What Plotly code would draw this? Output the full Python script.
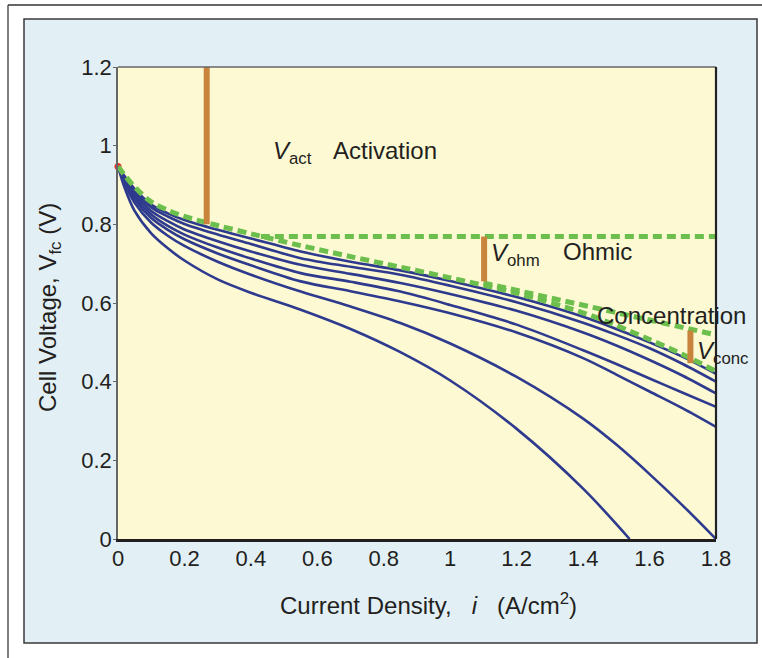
import plotly.graph_objects as go

# ---------------- data ----------------
i_grid = [0, 0.02, 0.05, 0.1, 0.15, 0.2, 0.3, 0.4, 0.55, 0.7, 0.85, 1.0, 1.2, 1.4, 1.5, 1.6, 1.7, 1.8]

v_c1 = [0.947, 0.922, 0.890, 0.850, 0.828, 0.811, 0.786, 0.764, 0.731, 0.705, 0.683, 0.656, 0.615, 0.565, 0.534, 0.500, 0.463, 0.420]
v_c2 = [0.947, 0.919, 0.884, 0.843, 0.820, 0.801, 0.774, 0.750, 0.714, 0.692, 0.672, 0.644, 0.602, 0.550, 0.519, 0.485, 0.445, 0.400]
v_c3 = [0.947, 0.915, 0.877, 0.834, 0.808, 0.787, 0.757, 0.731, 0.697, 0.674, 0.651, 0.623, 0.580, 0.525, 0.492, 0.455, 0.415, 0.370]
v_c4 = [0.947, 0.912, 0.870, 0.825, 0.796, 0.774, 0.741, 0.713, 0.676, 0.654, 0.629, 0.595, 0.545, 0.480, 0.445, 0.408, 0.372, 0.336]
v_c5 = [0.947, 0.908, 0.864, 0.816, 0.786, 0.762, 0.726, 0.696, 0.655, 0.630, 0.604, 0.574, 0.525, 0.460, 0.418, 0.375, 0.332, 0.285]
v_c6 = [0.947, 0.903, 0.855, 0.804, 0.771, 0.745, 0.705, 0.672, 0.629, 0.591, 0.549, 0.497, 0.412, 0.306, 0.240, 0.165, 0.085, 0.000]

i_c7 = [0, 0.02, 0.05, 0.1, 0.15, 0.2, 0.3, 0.4, 0.55, 0.7, 0.85, 1.0, 1.2, 1.4, 1.54]
v_c7 = [0.947, 0.893, 0.834, 0.777, 0.739, 0.708, 0.660, 0.626, 0.583, 0.534, 0.475, 0.403, 0.280, 0.128, 0.000]

# ideal curve (activation + ohmic + concentration)
v_ideal = [0.947, 0.925, 0.895, 0.857, 0.836, 0.820, 0.797, 0.776, 0.746, 0.718, 0.691, 0.664, 0.625, 0.575, 0.543, 0.507, 0.469, 0.426]

# reference lines
flat_i = [0.43, 1.8]
flat_v = [0.769, 0.769]
ohm_ext_i = [1.10, 1.8]
ohm_ext_v = [0.651, 0.519]

# loss bars
bar_i = [0.267, 1.102, 1.723]
bar_top = [1.20, 0.769, 0.530]
bar_bot = [0.80, 0.655, 0.447]

x_ticks = [0, 0.2, 0.4, 0.6, 0.8, 1.0, 1.2, 1.4, 1.6, 1.8]
x_labels = ["0", "0.2", "0.4", "0.6", "0.8", "1", "1.2", "1.4", "1.6", "1.8"]
y_ticks = [0, 0.2, 0.4, 0.6, 0.8, 1.0, 1.2]
y_labels = ["0", "0.2", "0.4", "0.6", "0.8", "1", "1.2"]

# ---------------- style ----------------
NAVY = "#2e3a8e"
GREEN = "#6cbf4c"
ORANGE = "#c8843c"
PANEL = "#e2eff5"
PLOTBG = "#fdf9d3"
TXT = "#231f20"
FONT = "Liberation Sans, Arial, Helvetica, sans-serif"

W, H = 762, 658
L, R, T, B = 118, 716, 67, 539


def px(x):
    return (x - L) / (R - L)


def py(y):
    return (B - y) / (B - T)


fig = go.Figure()

# red start marker
fig.add_trace(go.Scatter(x=[i_grid[0]], y=[v_ideal[0]], mode="markers",
                         marker=dict(color="#e8302a", size=7), cliponaxis=False,
                         hoverinfo="skip", showlegend=False))

for vals in [v_c1, v_c2, v_c3, v_c4, v_c5, v_c6]:
    fig.add_trace(go.Scatter(x=i_grid, y=vals, mode="lines",
                             line=dict(color=NAVY, width=2.6, shape="spline", smoothing=0.9),
                             showlegend=False, hoverinfo="skip"))
fig.add_trace(go.Scatter(x=i_c7, y=v_c7, mode="lines",
                         line=dict(color=NAVY, width=2.6, shape="spline", smoothing=0.9),
                         showlegend=False, hoverinfo="skip"))

dash = "9px,5px"
fig.add_trace(go.Scatter(x=flat_i, y=flat_v, mode="lines",
                         line=dict(color=GREEN, width=5, dash=dash), showlegend=False, hoverinfo="skip"))
fig.add_trace(go.Scatter(x=ohm_ext_i, y=ohm_ext_v, mode="lines",
                         line=dict(color=GREEN, width=5, dash=dash), showlegend=False, hoverinfo="skip"))
fig.add_trace(go.Scatter(x=i_grid, y=v_ideal, mode="lines",
                         line=dict(color=GREEN, width=5, dash=dash, shape="spline", smoothing=0.9),
                         showlegend=False, hoverinfo="skip"))

# loss bars
bx, by = [], []
for xi, t, b in zip(bar_i, bar_top, bar_bot):
    bx += [xi, xi, None]
    by += [t, b, None]
fig.add_trace(go.Scatter(x=bx, y=by, mode="lines", line=dict(color=ORANGE, width=6),
                         showlegend=False, hoverinfo="skip", cliponaxis=False))

shapes = [
    # outer frame lines
    dict(type="line", xref="paper", yref="paper", x0=px(8), x1=px(8), y0=py(5), y1=py(660),
         line=dict(color="#555", width=1.5), layer="below"),
    dict(type="line", xref="paper", yref="paper", x0=px(8), x1=px(764), y0=py(5), y1=py(5),
         line=dict(color="#333", width=1.5), layer="below"),
    # blue panel
    dict(type="rect", xref="paper", yref="paper", x0=px(24), x1=px(757), y0=py(643), y1=py(19),
         fillcolor=PANEL, line=dict(color="#3a3a3a", width=1.5), layer="below"),
    # plot background
    dict(type="rect", xref="paper", yref="paper", x0=0, x1=1, y0=0, y1=1,
         fillcolor=PLOTBG, line=dict(width=0), layer="below"),
    # top & right frame of plot area
    dict(type="line", xref="paper", yref="paper", x0=0, x1=1, y0=1, y1=1,
         line=dict(color="#666", width=1.5)),
    dict(type="line", xref="paper", yref="paper", x0=1, x1=1, y0=0, y1=1,
         line=dict(color="#222", width=2.2)),
]

ann_font = dict(family=FONT, size=24, color=TXT)
annotations = [
    dict(text="<i>V</i><sub>act</sub>", x=px(271), y=py(152), xref="paper", yref="paper",
         xanchor="left", yanchor="middle", showarrow=False, font=ann_font),
    dict(text="Activation", x=px(331), y=py(150), xref="paper", yref="paper",
         xanchor="left", yanchor="middle", showarrow=False, font=ann_font),
    dict(text="<i>V</i><sub>ohm</sub>", x=px(489), y=py(254), xref="paper", yref="paper",
         xanchor="left", yanchor="middle", showarrow=False, font=ann_font),
    dict(text="Ohmic", x=px(561), y=py(252), xref="paper", yref="paper",
         xanchor="left", yanchor="middle", showarrow=False, font=ann_font),
    dict(text="Concentration", x=px(595), y=py(315), xref="paper", yref="paper",
         xanchor="left", yanchor="middle", showarrow=False, font=ann_font),
    dict(text="<i>V</i><sub>conc</sub>", x=px(695), y=py(352), xref="paper", yref="paper",
         xanchor="left", yanchor="middle", showarrow=False, font=ann_font),
    dict(text="Current Density,\u00a0\u00a0 <i>i</i> \u00a0\u00a0(A/cm<sup>2</sup>)", x=px(428), y=py(604),
         xref="paper", yref="paper", xanchor="center", yanchor="middle", showarrow=False, font=ann_font),
    dict(text="Cell Voltage, V<sub>fc</sub> (V)", x=px(49), y=py(308), xref="paper", yref="paper",
         xanchor="center", yanchor="middle", textangle=-90, showarrow=False, font=ann_font),
]

fig.update_layout(
    width=W, height=H, autosize=False,
    margin=dict(l=L, r=W - R, t=T, b=H - B, pad=0),
    paper_bgcolor="white", plot_bgcolor="rgba(0,0,0,0)",
    shapes=shapes, annotations=annotations, showlegend=False,
    font=dict(family=FONT, color=TXT),
    xaxis=dict(range=[0, 1.8], tickvals=x_ticks, ticktext=x_labels, showgrid=False, zeroline=False,
               showline=True, linecolor="#231f20", linewidth=2.5, ticks="", ticklabelstandoff=-2,
               tickfont=dict(family=FONT, size=22, color=TXT), fixedrange=True),
    yaxis=dict(range=[0, 1.2], tickvals=y_ticks, ticktext=y_labels, showgrid=False, zeroline=False,
               showline=True, linecolor="#666", linewidth=1.5, ticks="outside", ticklen=3,
               tickcolor="#666", tickwidth=1, ticklabelstandoff=-3,
               tickfont=dict(family=FONT, size=22, color=TXT), fixedrange=True),
)

fig.write_html("out.html")
